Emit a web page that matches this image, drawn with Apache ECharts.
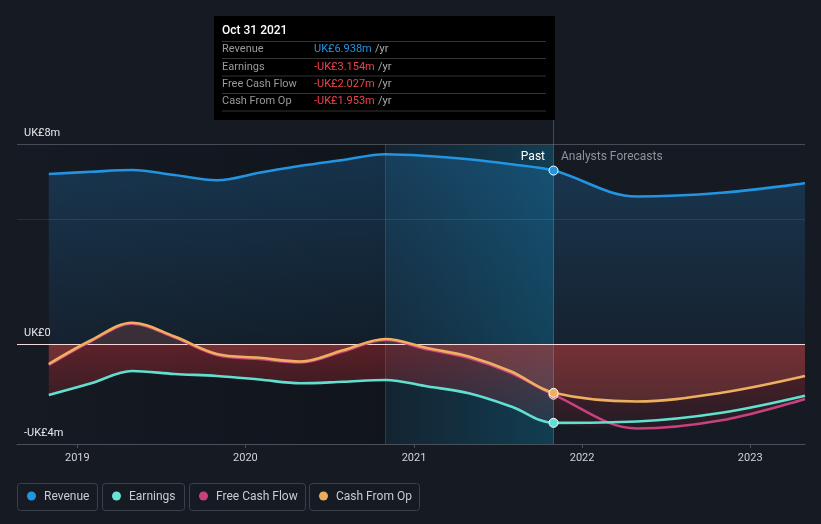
<!DOCTYPE html>
<html><head><meta charset="utf-8">
<script src="https://cdn.jsdelivr.net/npm/echarts@6/dist/echarts.min.js"></script>
<style>html,body{margin:0;padding:0;background:#151a23;}#c{width:821px;height:524px;}</style>
</head><body><div id="c"></div>
<script>
const dates = ['2018-10-31','2019-01-31','2019-04-30','2019-07-31','2019-10-31','2020-01-31','2020-04-30','2020-07-31','2020-10-31','2021-01-31','2021-04-30','2021-07-31','2021-10-31','2022-04-30','2022-10-31','2023-04-30'];
const revenue  = [6.8, 6.89, 6.96, 6.76, 6.55, 6.85, 7.13, 7.36, 7.59, 7.52, 7.39, 7.19, 6.938, 5.9, 6.05, 6.43];
const earnings = [-2.04, -1.57, -1.08, -1.2, -1.28, -1.42, -1.57, -1.51, -1.44, -1.7, -1.97, -2.5, -3.154, -3.1, -2.75, -2.07];
const fcf      = [-0.84, 0.11, 0.81, 0.26, -0.44, -0.6, -0.74, -0.3, 0.16, -0.22, -0.56, -1.16, -2.027, -3.38, -3.05, -2.2];
const cfo      = [-0.8, 0.15, 0.85, 0.3, -0.4, -0.55, -0.7, -0.25, 0.2, -0.17, -0.5, -1.1, -1.953, -2.3, -1.95, -1.28];
const yTicks = [8, 0, -4];
const yTickLabels = ['UK£8m', 'UK£0', '-UK£4m'];
const nowDate = '2021-10-31';
const nowIdx = dates.indexOf(nowDate);
const pastStart = '2020-10-31';
const tipRows = [
  ['Revenue', 'UK£6.938m', '#2394e0'],
  ['Earnings', '-UK£3.154m', '#f0434b'],
  ['Free Cash Flow', '-UK£2.027m', '#f0434b'],
  ['Cash From Op', '-UK£1.953m', '#f0434b']
];
const legendItems = [
  ['Revenue', '#2394e0'],
  ['Earnings', '#6ae3d2'],
  ['Free Cash Flow', '#c8417f'],
  ['Cash From Op', '#eaad5e']
];
const colors = {rev:'#2394e0', earn:'#62dfcf', fcf:'#c8417f', cfo:'#eeb05e'};

const floorVals = dates.map((d,i)=>Math.min(earnings[i], fcf[i], cfo[i], 0));

function pts(vals, color){
  return vals.map((v,i)=> i===nowIdx ? {value:[dates[i], v], symbol:'circle', symbolSize:9,
      itemStyle:{color:color, borderColor:'#fff', borderWidth:1}} : [dates[i], v]);
}
function lineSeries(name, vals, color, z){
  return {name, type:'line', data: pts(vals,color), smooth:0.35, symbol:'none', showSymbol:true,
    lineStyle:{color, width:2.6}, itemStyle:{color}, z, silent:true};
}

const chart = echarts.init(document.getElementById('c'), null, {renderer:'canvas'});
const TOP=144, LEFT=17, RIGHT=16, BOTTOM=80;

const graphics = [];
graphics.push({type:'rect', shape:{x:214,y:16,width:341,height:104}, style:{fill:'#000'}, z:100});
graphics.push({type:'text', x:222, y:31, style:{text:'Oct 31 2021', fill:'#fff', font:'500 12px Roboto', textVerticalAlign:'middle'}, z:101});
const sepY = [41.5, 58.5, 76, 93.5, 111];
sepY.forEach(y=>graphics.push({type:'line', shape:{x1:222,y1:y,x2:546,y2:y}, style:{stroke:'#333', lineWidth:1}, z:101}));
tipRows.forEach((r,i)=>{
  const cy = 49.5 + i*17.3;
  graphics.push({type:'text', x:222, y:cy, style:{text:r[0], fill:'#9a9a9a', font:'11px Roboto', textVerticalAlign:'middle'}, z:101});
  graphics.push({type:'text', x:314, y:cy, style:{
    text:'{v|'+r[1]+'} {u|/yr}', textVerticalAlign:'middle',
    rich:{v:{fill:r[2], font:'11px Roboto'}, u:{fill:'#aaa', font:'11px Roboto'}}}, z:101});
});
graphics.push({type:'text', x:545, y:156.5, style:{text:'Past', fill:'#fff', font:'12px Roboto', textAlign:'right', textVerticalAlign:'middle'}, z:50});
graphics.push({type:'text', x:561, y:156.5, style:{text:'Analysts Forecasts', fill:'#8e9299', font:'12px Roboto', textVerticalAlign:'middle'}, z:50});
const boxes = [[17,80],[102,82],[189,116],[309,110]];
legendItems.forEach((it,i)=>{
  const [bx,bw] = boxes[i];
  graphics.push({type:'rect', shape:{x:bx+0.5,y:483.5,width:bw,height:27,r:3}, style:{fill:'none', stroke:'#3b414b', lineWidth:1}, z:50});
  graphics.push({type:'circle', shape:{cx:bx+14.5,cy:496,r:4.5}, style:{fill:it[1]}, z:51});
  graphics.push({type:'text', x:bx+27, y:496.5, style:{text:it[0], fill:'#c9ccd1', font:'12px Roboto', textVerticalAlign:'middle'}, z:51});
});
graphics.push({type:'line', shape:{x1:553.5,y1:120,x2:553.5,y2:144}, style:{stroke:'rgba(120,170,200,0.35)', lineWidth:1}, z:5});

const option = {
  backgroundColor:'#151a23',
  animation:false,
  grid:{left:LEFT, right:RIGHT, top:TOP, bottom:BOTTOM},
  xAxis:{type:'time', min:'2018-08-23', max:'2023-04-30',
    minInterval: 365*24*3600*1000, maxInterval: 366*24*3600*1000,
    axisLine:{onZero:false, lineStyle:{color:'#4a505a', width:1}},
    axisTick:{show:true, length:4, lineStyle:{color:'#4a505a'}},
    axisLabel:{color:'#d0d3d8', fontSize:11, fontFamily:'Roboto', margin:9,
      formatter:(v)=>String(new Date(v).getFullYear())},
    splitLine:{show:false}},
  yAxis:{type:'value', min:-4, max:8, show:false, splitLine:{show:false}},
  graphic: graphics,
  series:[
    {name:'bands', type:'line', data:[], silent:true,
      markArea:{silent:true, data:[
        [{xAxis:'2018-08-23', itemStyle:{color:{type:'linear',x:0,y:0,x2:1,y2:0,colorStops:[{offset:0,color:'rgba(0,0,0,0)'},{offset:1,color:'rgba(0,0,0,0.22)'}]}}},{xAxis:pastStart}],
        [{xAxis:pastStart, itemStyle:{color:{type:'linear',x:0,y:0,x2:1,y2:0,colorStops:[{offset:0,color:'rgba(12,110,150,0.12)'},{offset:1,color:'rgba(12,120,160,0.38)'}]}}},{xAxis:nowDate}]
      ]},
      markLine:{silent:true, symbol:'none', animation:false, data:[
        {yAxis:8, lineStyle:{color:'#474d57', width:1, type:'solid'}, label:{show:false}},
        {yAxis:5, lineStyle:{color:'rgba(255,255,255,0.09)', width:1, type:'solid'}, label:{show:false}},
        {xAxis:pastStart, lineStyle:{color:'rgba(100,160,190,0.25)', width:1, type:'solid'}, label:{show:false}},
        {xAxis:nowDate, lineStyle:{color:'rgba(120,170,200,0.35)', width:1, type:'solid'}, label:{show:false}}
      ]}, z:1},
    {name:'revArea', type:'line', data: dates.map((d,i)=>[d,revenue[i]]), smooth:0.35, symbol:'none', silent:true,
      lineStyle:{width:0}, areaStyle:{origin:0, color:{type:'linear',x:0,y:0,x2:0,y2:1,colorStops:[{offset:0,color:'rgba(35,140,215,0.36)'},{offset:1,color:'rgba(35,140,215,0.1)'}]}}, z:2},
    {name:'floor', type:'line', data: dates.map((d,i)=>[d,floorVals[i]]), smooth:0.35, symbol:'none', silent:true,
      lineStyle:{width:0}, areaStyle:{origin:0, color:{type:'linear',x:0,y:0,x2:0,y2:1,colorStops:[{offset:0,color:'rgba(190,45,52,0.62)'},{offset:1,color:'rgba(190,45,52,0.12)'}]}}, z:3},
    {name:'cfoArea', type:'line', data: dates.map((d,i)=>[d,cfo[i]]), smooth:0.35, symbol:'none', silent:true,
      lineStyle:{width:0}, areaStyle:{origin:0, color:'rgba(225,110,100,0.26)'}, z:4},
    {name:'zero', type:'line', data:[], silent:true,
      markLine:{silent:true, symbol:'none', animation:false, data:[
        {yAxis:0, lineStyle:{color:'#f4dada', width:1, type:'solid'}, label:{show:false}}
      ]}, z:5},
    {name:'ylabels', type:'line', data:[], silent:true,
      markLine:{silent:true, symbol:'none', animation:false,
        data: yTicks.map((t,i)=>({yAxis:t, lineStyle:{color:'rgba(0,0,0,0)', width:1, type:'solid'},
          label:{show:true, position:'insideStartTop', formatter:yTickLabels[i], color:'#e6e8eb', fontSize:11, fontFamily:'Roboto', distance:[7,5]}}))}, z:20},
    lineSeries('Free Cash Flow', fcf, colors.fcf, 10),
    lineSeries('Earnings', earnings, colors.earn, 11),
    lineSeries('Cash From Op', cfo, colors.cfo, 12),
    lineSeries('Revenue', revenue, colors.rev, 13)
  ]
};
chart.setOption(option);
</script></body></html>
